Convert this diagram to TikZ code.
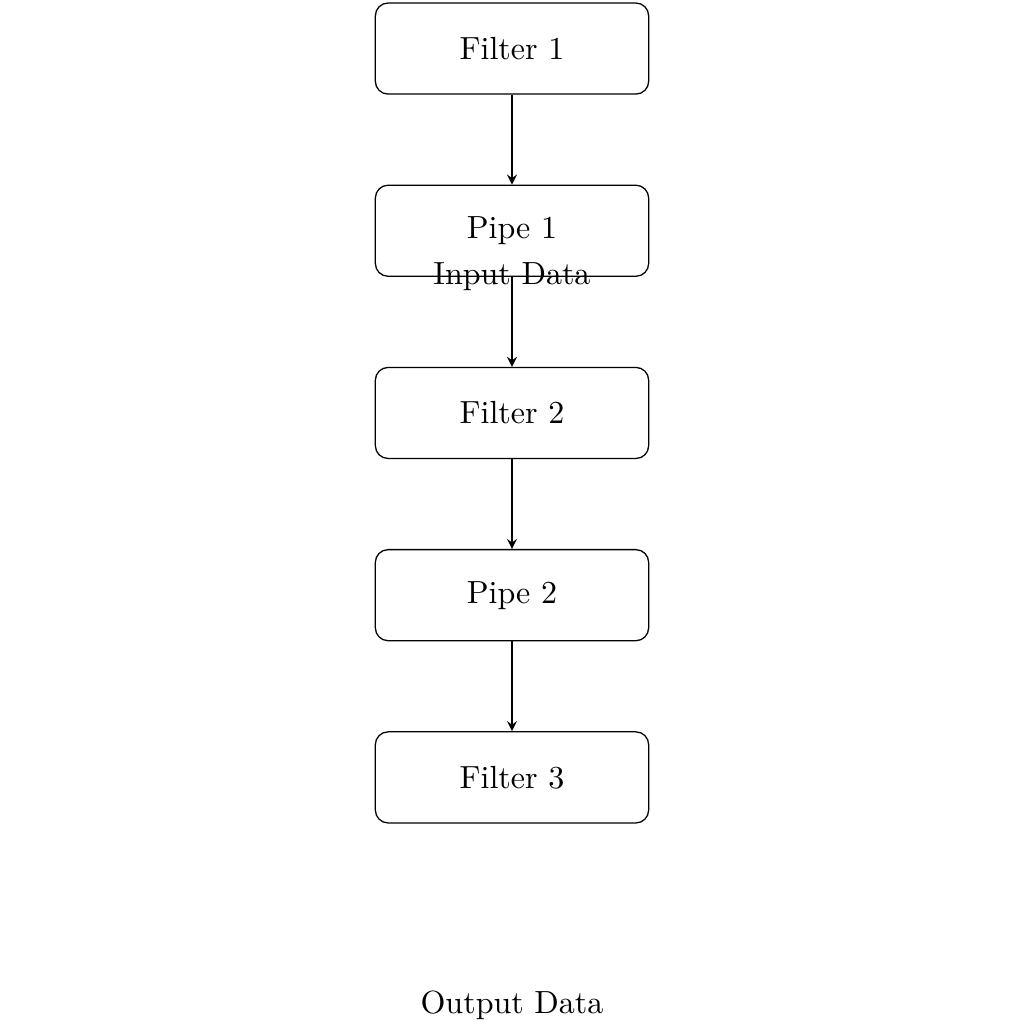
\documentclass[tikz,border=0pt]{standalone}
\usetikzlibrary{arrows}
\begin{document}
\begin{tikzpicture}
\tikzset{
  stage/.style={draw, rounded corners, minimum width=3cm, minimum height=1cm},
  flow/.style={-stealth},
  label/.style={inner sep=2pt}
}
\useasboundingbox (-5.62,0.533) rectangle (5.62,-10.707);
\node[stage] (f1) at (0,0) {Filter 1};
\node[stage] (p1) at (0,-2) {Pipe 1};
\node[stage] (f2) at (0,-4) {Filter 2};
\node[stage] (p2) at (0,-6) {Pipe 2};
\node[stage] (f3) at (0,-8) {Filter 3};
\node[label] (in) at (0,-2.5) {Input Data};
\node[label] (out) at (0,-10.5) {Output Data};
\draw[flow] (f1) -- (p1);
\draw[flow] (p1) -- (f2);
\draw[flow] (f2) -- (p2);
\draw[flow] (p2) -- (f3);
\end{tikzpicture}
\end{document}
